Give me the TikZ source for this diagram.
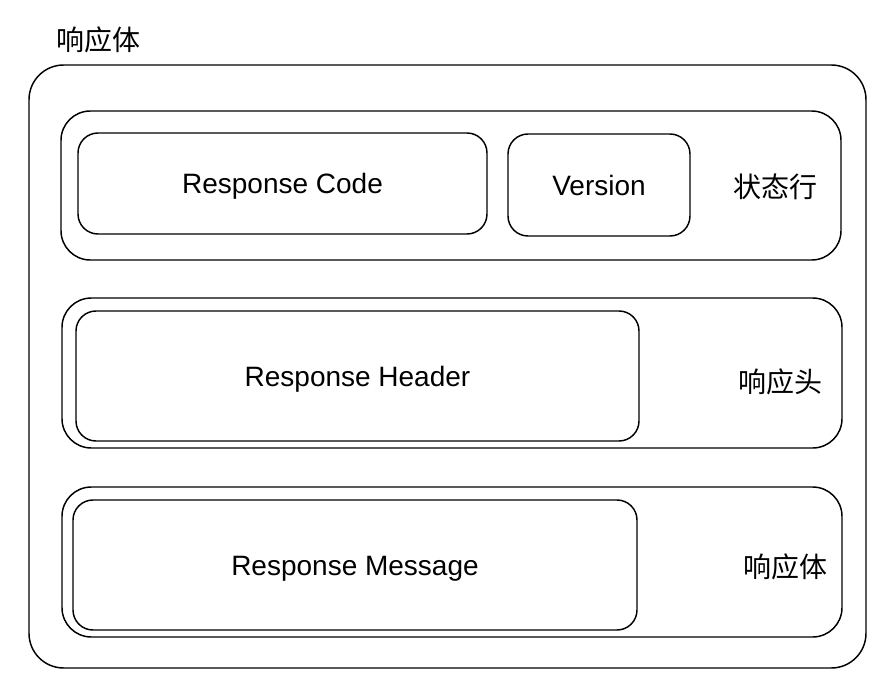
\documentclass[tikz,border=0pt]{standalone}
\usepackage{fontspec}
\setmainfont{Liberation Sans}
\newfontfamily\cjk{Noto Sans CJK SC}

\begin{document}
\begin{tikzpicture}[x=0.75pt,y=0.75pt,yscale=-1,xscale=1,
	box/.style={draw, line width=1.1pt, rounded corners=#1, inner sep=0pt},
	box/.default=15pt,
	lbl/.style={font=\fontsize{21}{25}\selectfont, text height=15pt, text depth=0pt},
	zh/.style={font=\cjk\fontsize{21}{25}\selectfont}]
				\useasboundingbox (0,0) rectangle (894,696);

				%Rounded Rect [id:outer] 
				\node (body) [box=26pt, minimum width=627.75pt, minimum height=452.25pt] at (447.5,366.5) {};
				%Rounded Rect [id:rows] 
				\node (statusrow) [box=22pt, minimum width=585pt, minimum height=111.75pt] at (451,185.5) {};
				\node (headerrow) [box=22pt, minimum width=585pt, minimum height=112.5pt] at (452,373) {};
				\node (bodyrow) [box=22pt, minimum width=585pt, minimum height=112.5pt] at (452,562) {};

				%Rounded Rect [id:inner] 
				\node (code) [box, lbl, minimum width=306.75pt, minimum height=75.75pt] at (282.5,183.5) {Response Code};
				\node (version) [box, lbl, minimum width=136.5pt, minimum height=76.5pt] at (599,185) {Version};
				\node (header) [box, lbl, minimum width=422.25pt, minimum height=97.5pt] at (357.5,376) {Response Header};
				\node (message) [box, lbl, minimum width=423pt, minimum height=97.5pt] at (355,565) {Response Message};

				% Text Node
				\node (title) [zh] at (98,40) {响应体};
				% Text Node
				\node (statuslbl) [zh] at (775,187) {状态行};
				% Text Node
				\node (headerlbl) [zh] at (780,382) {响应头};
				% Text Node
				\node (bodylbl) [zh] at (785,567) {响应体};

\end{tikzpicture}
\end{document}
